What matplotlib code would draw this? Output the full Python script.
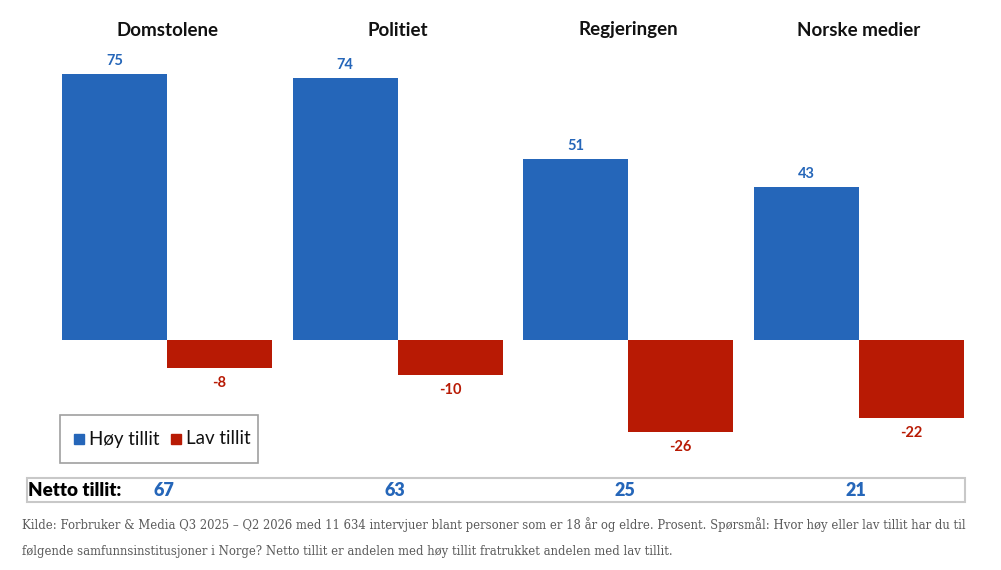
import numpy as np
import matplotlib.pyplot as plt

# data
institutions = ["Domstolene", "Politiet", "Regjeringen", "Norske medier"]
hoy = [75, 74, 51, 43]
lav = [-8, -10, -26, -22]
netto = [67, 63, 25, 21]
series_names = ["Høy tillit", "Lav tillit"]
caption = ("Kilde: Forbruker & Media Q3 2025 – Q2 2026 med 11 634 intervjuer blant personer som er 18 år og eldre. Prosent. Spørsmål: Hvor høy eller lav tillit har du til\n"
           "følgende samfunnsinstitusjoner i Norge? Netto tillit er andelen med høy tillit fratrukket andelen med lav tillit.")

BLUE = "#2566b9"
RED = "#b81a04"
W, H = 1001, 570

plt.rcParams['font.family'] = ['Lato', 'DejaVu Sans']

fig = plt.figure(figsize=(W / 100, H / 100), dpi=100)
ax = fig.add_axes([0, 0, 1, 1])

# pixel layout: group 0 centre at x=167, spacing 230.5 px; zero line at y=340, 3.547 px per unit
x0, dx = 167, 230.5
y0, dy = 340, 266 / 75
ax.set_xlim((0 - x0) / dx, (W - x0) / dx)
ax.set_ylim((y0 - H) / dy, y0 / dy)
ax.axis("off")

x = np.arange(len(institutions))
bw = 105 / dx
ax.bar(x - bw / 2, hoy, width=bw, color=BLUE, edgecolor="none")
ax.bar(x + bw / 2, lav, width=bw, color=RED, edgecolor="none")

for i in range(len(institutions)):
    ax.text(x[i], (y0 - 30) / dy, institutions[i], ha="center", va="center",
            fontsize=13.5, fontweight="bold", color="#111111")
    ax.text(x[i] - bw / 2, hoy[i] + 13 / dy, str(hoy[i]), ha="center", va="center",
            fontsize=10.5, fontweight="bold", color=BLUE)
    ax.text(x[i] + bw / 2, lav[i] - 15 / dy, str(lav[i]), ha="center", va="center",
            fontsize=10.5, fontweight="bold", color=RED)

# legend box
fig.patches.append(plt.Rectangle((60 / W, 1 - 463 / H), 198 / W, 48 / H, transform=fig.transFigure,
                                 fill=False, edgecolor="#a0a0a0", linewidth=1.2))
fig.patches.append(plt.Rectangle((74 / W, 1 - 444 / H), 10 / W, 10 / H, transform=fig.transFigure,
                                 color=BLUE))
fig.text(89 / W, 1 - 439 / H, series_names[0], ha="left", va="center", fontsize=13.5, color="#111111")
fig.patches.append(plt.Rectangle((171 / W, 1 - 444 / H), 10 / W, 10 / H, transform=fig.transFigure,
                                 color=RED))
fig.text(186 / W, 1 - 439 / H, series_names[1], ha="left", va="center", fontsize=13.5, color="#111111")

# netto row
fig.patches.append(plt.Rectangle((27 / W, 1 - 502 / H), 938 / W, 24 / H, transform=fig.transFigure,
                                 fill=False, edgecolor="#c8c8c8", linewidth=1.5))
fig.text(28 / W, 1 - 490 / H, "Netto tillit:", ha="left", va="center", fontsize=13.5,
         fontweight="heavy", color="#000000")
for i in range(len(institutions)):
    ax.text(x[i] - 3 / dx, (y0 - 490) / dy, str(netto[i]), ha="center", va="center",
            fontsize=13, fontweight="heavy", color=BLUE)

fig.text(22 / W, 1 - 538 / H, caption, ha="left", va="center", fontsize=8.35,
         family="DejaVu Serif", color="#5a5a5a", linespacing=2.3)

fig.savefig("out.png", dpi=100)
